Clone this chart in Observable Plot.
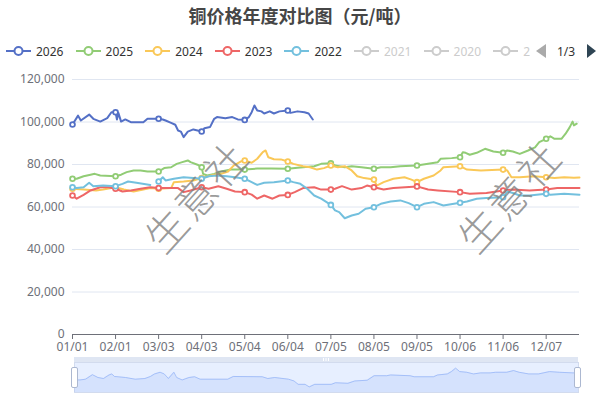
<!DOCTYPE html>
<html><head><meta charset="utf-8">
<script src="https://cdn.jsdelivr.net/npm/d3@7"></script>
<script src="https://cdn.jsdelivr.net/npm/@observablehq/plot@0.6"></script>
<style>
body{margin:0;background:#fff;font-family:"Noto Sans","Noto Sans CJK SC",sans-serif;}
#wrap{width:600px;height:400px;position:relative;overflow:hidden;background:#fff;}
#title{height:30px;line-height:30px;text-align:center;font-weight:bold;font-size:18px;font-family:"Noto Sans CJK SC",sans-serif;color:#464646;}
#legend{height:42px;position:relative;}
#litems{position:absolute;left:0;top:0;width:530px;height:42px;overflow:hidden;}
.li{position:absolute;top:14px;height:14px;display:flex;align-items:center;font-size:12px;white-space:nowrap;}
.li svg{margin-right:5px;}
#pager{position:absolute;left:536px;top:14px;height:14px;width:64px;font-size:12px;color:#333;}
#main{position:relative;height:284px;}
.wm{position:absolute;font-family:"Noto Sans CJK SC",sans-serif;font-size:41px;color:rgba(128,128,128,0.8);letter-spacing:3px;transform:translate(-50%,-50%) rotate(-48deg);white-space:nowrap;pointer-events:none;font-weight:300;}
#slider{position:relative;height:44px;}
.hd{position:absolute;top:11px;width:5px;height:19px;background:#fff;border:1px solid #acb8d1;border-radius:2px;}
</style></head>
<body><div id="wrap">
<div id="title">铜价格年度对比图（元/吨）</div>
<div id="legend"><div id="litems"></div>
<div id="pager">
<svg width="64" height="14" style="position:absolute;left:0;top:0;overflow:visible">
<path d="M10,0 L0,7 L10,14 Z" fill="#aaaaaa"/>
<text x="21" y="11.5" fill="#333" font-size="12">1/3</text>
<path d="M51,0 L60,7 L51,14 Z" fill="#2f4554"/>
</svg></div>
</div>
<div id="main"></div>
<div id="slider"></div>
</div>
<script>
const tickLabels = ["01/01","02/01","03/03","04/03","05/04","06/04","07/05","08/05","09/05","10/06","11/06","12/07"];
const yTicks = [0,20000,40000,60000,80000,100000,120000];
const legendNames = ["2026","2025","2024","2023","2022","2021","2020","2019"];
const legendActive = [true,true,true,true,true,false,false,false];
const seriesColors = ["#5470c6","#91cc75","#fac858","#ee6666","#73c0de"];

const s2026 = [["01/01",98800],["01/05",103000],["01/07",100700],["01/13",103500],["01/16",101500],["01/21",100200],["01/26",101800],["01/29",104600],["02/01",104600],["02/02",101200],["02/03",104300],["02/05",100200],["02/08",101200],["02/12",99900],["02/21",99900],["02/24",101500],["03/03",101500],["03/06",101200],["03/08",100700],["03/12",99600],["03/15",98700],["03/17",96000],["03/19",95500],["03/21",92900],["03/24",95500],["03/28",96500],["04/03",95500],["04/05",97100],["04/09",97600],["04/12",101500],["04/14",102300],["04/20",101800],["04/25",102300],["04/29",101200],["05/04",101000],["05/07",102300],["05/09",104600],["05/11",107800],["05/13",105400],["05/16",105000],["05/18",104000],["05/22",105000],["05/25",104000],["05/29",105000],["06/04",105400],["06/06",104300],["06/11",105000],["06/16",104600],["06/19",104000],["06/22",101200]];

const s2025 = [["01/01",73300],["01/04",73300],["01/09",74500],["01/14",75200],["01/17",75600],["01/21",74800],["02/01",74500],["02/05",75200],["02/09",76400],["02/14",77200],["02/19",77200],["02/24",76700],["03/03",76700],["03/07",78300],["03/12",78700],["03/16",80300],["03/20",81100],["03/24",81900],["03/26",81100],["03/31",79900],["04/03",78700],["04/04",75600],["04/07",74800],["04/12",75600],["04/17",76700],["04/24",77600],["05/04",77600],["05/13",78100],["05/23",78100],["06/04",78000],["06/11",78500],["06/23",79200],["06/28",80300],["07/05",80600],["07/08",79500],["07/15",78700],["07/20",79200],["07/27",78700],["08/05",78000],["08/10",78700],["08/17",78700],["08/24",79200],["09/05",79500],["09/13",80300],["09/20",81100],["09/22",82700],["09/30",83000],["10/06",83400],["10/08",85800],["10/10",85500],["10/13",84600],["10/18",85500],["10/24",87400],["10/30",86100],["11/06",85500],["11/09",86600],["11/13",86100],["11/18",85000],["11/24",86600],["11/29",88100],["12/02",90500],["12/07",92100],["12/10",93300],["12/13",92100],["12/18",92100],["12/21",94500],["12/24",97600],["12/26",100200],["12/27",98400],["12/29",99200]];

const s2024 = [["01/01",68600],["01/09",68200],["01/18",67800],["01/23",68200],["02/01",69300],["02/07",68200],["02/14",67300],["02/21",68200],["02/26",68900],["03/03",68600],["03/12",68900],["03/14",71700],["03/21",72000],["03/28",72500],["04/03",73600],["04/05",74000],["04/12",75200],["04/17",75600],["04/22",76700],["04/26",79500],["05/01",81400],["05/04",81900],["05/09",80800],["05/13",82700],["05/17",85800],["05/19",86600],["05/21",83400],["05/25",82500],["05/30",82400],["06/04",81400],["06/08",80300],["06/15",79200],["06/20",78700],["06/25",77600],["06/30",78300],["07/05",79500],["07/10",78700],["07/15",79200],["07/20",77200],["07/24",74500],["07/29",73600],["08/05",72900],["08/07",70100],["08/12",71700],["08/19",73300],["08/27",74000],["09/01",72900],["09/05",71700],["09/10",73300],["09/17",74800],["09/22",77200],["09/24",78700],["10/06",79200],["10/11",77600],["10/21",77200],["11/06",77600],["11/09",77200],["11/12",74000],["11/18",74000],["11/28",74500],["12/07",74000],["12/13",73600],["12/20",74000],["12/27",73800],["12/31",73900]];

const s2023 = [["01/01",65400],["01/04",63900],["01/09",65700],["01/14",67800],["01/21",69300],["01/27",69300],["02/01",68600],["02/06",67300],["02/12",67800],["02/19",68600],["02/26",69300],["03/03",68900],["03/09",68900],["03/17",68900],["03/21",67000],["03/26",67800],["04/03",69300],["04/08",68600],["04/15",69800],["04/21",68600],["04/27",67300],["05/04",67000],["05/09",65800],["05/13",63900],["05/18",65400],["05/24",63900],["05/29",65400],["06/04",65700],["06/09",67000],["06/15",68900],["06/23",69300],["06/28",68200],["07/05",68200],["07/08",68600],["07/13",69800],["07/20",68200],["07/27",68900],["07/31",70100],["08/05",69300],["08/12",68200],["08/19",68900],["09/05",69700],["09/13",68200],["09/20",67800],["10/06",67000],["10/13",66200],["10/25",66600],["11/06",67800],["11/13",68200],["11/25",67800],["12/07",68200],["12/15",68900],["12/31",68900]];

const s2022 = [["01/01",69300],["01/04",68900],["01/09",69300],["01/13",71400],["01/16",69800],["01/23",70100],["02/01",69800],["02/06",70900],["02/10",72000],["02/16",71400],["02/26",70400],["03/01",null],["03/03",72000],["03/06",74000],["03/08",72500],["03/14",73300],["03/21",74000],["03/28",73600],["04/03",73300],["04/08",74500],["04/14",74800],["04/21",74500],["04/27",74000],["05/04",73300],["05/09",71700],["05/13",70400],["05/18",71400],["05/25",71700],["06/04",72500],["06/08",71700],["06/13",70900],["06/18",68600],["06/23",65400],["06/28",63900],["07/05",61000],["07/08",58400],["07/11",57600],["07/15",54700],["07/20",56000],["07/25",56800],["07/30",59200],["08/05",59900],["08/10",61500],["08/17",62600],["08/24",63100],["08/30",61800],["09/05",59900],["09/10",61500],["09/17",62300],["09/24",60700],["10/06",62000],["10/11",62600],["10/18",63900],["10/25",64200],["11/06",64600],["11/09",67300],["11/13",66600],["11/18",65400],["11/25",65400],["12/07",66200],["12/10",65800],["12/20",66200],["12/31",65800]];

const previewSeries = [["01/01",67400],["01/05",67400],["01/09",68200],["01/14",73000],["01/18",70000],["01/22",68900],["01/26",72700],["01/28",73800],["01/30",71100],["02/07",70000],["02/14",68200],["02/21",68900],["02/25",71100],["02/28",73800],["03/03",75600],["03/06",73800],["03/09",68900],["03/13",75600],["03/15",70000],["03/19",67400],["03/24",70000],["03/28",70800],["04/01",68200],["04/21",68200],["04/25",71100],["05/16",70800],["05/20",68900],["05/25",70000],["06/04",68200],["06/08",66300],["06/11",62700],["06/16",62700],["06/19",60000],["06/23",62700],["07/05",62700],["07/08",64400],["07/17",63800],["07/22",66300],["07/31",67100],["08/05",71900],["08/14",71900],["08/17",72700],["08/31",71900],["09/03",70800],["09/17",70800],["09/20",72700],["09/27",73800],["09/30",76300],["10/03",80000],["10/06",76300],["10/11",75600],["10/16",73800],["10/21",74900],["10/28",74900],["11/01",75600],["11/09",75600],["11/14",77400],["11/18",75600],["11/25",73800],["12/02",73800],["12/10",76300],["12/17",75600],["12/27",74900],["12/31",74900]];

const seriesList = [s2026, s2025, s2024, s2023, s2022];

// category index of a MM/DD label on a 366-day (leap) calendar axis
const monthStart = [0,31,60,91,121,152,182,213,244,274,305,335];
const dayIndex = s => monthStart[+s.slice(0,2) - 1] + (+s.slice(3)) - 1;
const tickIdx = tickLabels.map(dayIndex);
const tickSet = new Set(tickLabels);

// ---- Legend
const litems = document.getElementById("litems");
legendNames.forEach((name, i) => {
  const c = legendActive[i] ? seriesColors[i] : "#cccccc";
  const el = document.createElement("div");
  el.className = "li";
  el.style.left = (6 + i * 69.6) + "px";
  el.style.color = legendActive[i] ? "#333" : "#ccc";
  el.innerHTML = `<svg width="25" height="14"><line x1="0" x2="25" y1="7" y2="7" stroke="${c}" stroke-width="2"/><circle cx="12.5" cy="7" r="4" fill="#fff" stroke="${c}" stroke-width="2"/></svg><span>${name}</span>`;
  litems.appendChild(el);
});

// ---- Main chart
const marks = [
  Plot.ruleY(yTicks.slice(1), {stroke: "#e0e6f1", strokeWidth: 1}),
  Plot.axisY({ticks: yTicks, tickFormat: d3.format(","), tickSize: 0, tickPadding: 8, label: null, fill: "#6e7079"}),
  Plot.ruleY([0], {stroke: "#6e7079", strokeWidth: 1}),
  Plot.axisX({ticks: tickIdx, tickFormat: d => tickLabels[tickIdx.indexOf(d)], tickSize: 5, tickPadding: 3, label: null, stroke: "#6e7079", fill: "#6e7079"})
];
seriesList.forEach((s, i) => {
  const rows = s.map(([d, v]) => ({x: dayIndex(d), date: d, v}));
  marks.push(Plot.line(rows, {x: "x", y: "v", stroke: seriesColors[i], strokeWidth: 2, strokeLinejoin: "round"}));
  marks.push(Plot.dot(rows.filter(r => tickSet.has(r.date) && r.v != null), {x: "x", y: "v", r: 2.4, fill: "#fff", stroke: seriesColors[i], strokeWidth: 1.8}));
});
const main = Plot.plot({
  width: 600, height: 284,
  marginTop: 7, marginBottom: 22, marginLeft: 72, marginRight: 21,
  style: {fontSize: "12px", fontFamily: '"Noto Sans","Noto Sans CJK SC",sans-serif', color: "#6e7079", background: "transparent", overflow: "visible"},
  x: {type: "linear", domain: [0, 365]},
  y: {domain: [0, 120000]},
  marks
});
const mainDiv = document.getElementById("main");
mainDiv.appendChild(main);
[[195, 123], [508, 123]].forEach(([x, y]) => {
  const w = document.createElement("div");
  w.className = "wm"; w.textContent = "生意社";
  w.style.left = x + "px"; w.style.top = y + "px";
  mainDiv.appendChild(w);
});

// ---- DataZoom slider
const prev = previewSeries.map(([d, v]) => ({x: dayIndex(d), v}));
const slider = Plot.plot({
  width: 600, height: 44,
  marginTop: 6, marginBottom: 8, marginLeft: 74, marginRight: 22,
  style: {background: "transparent", overflow: "visible"},
  x: {type: "linear", domain: [0, 365], axis: null},
  y: {domain: [54000, 86000], axis: null},
  marks: [
    Plot.frame({fill: "rgba(135,175,255,0.2)", stroke: "#d2dbee"}),
    Plot.areaY(prev, {x: "x", y: "v", fill: "#8fb0f7", fillOpacity: 0.2, clip: true}),
    Plot.lineY(prev, {x: "x", y: "v", stroke: "#8fb0f7", strokeWidth: 0.7})
  ]
});
const sd = document.getElementById("slider");
sd.appendChild(slider);
sd.insertAdjacentHTML("beforeend",
  `<div style="position:absolute;left:74px;top:1px;width:504px;height:5px;background:#d2dbee;opacity:0.7"></div>
   <svg style="position:absolute;left:322px;top:1px" width="8" height="5"><path d="M1.5,1V4M4,1V4M6.5,1V4" stroke="#fff" stroke-width="1"/></svg>
   <div class="hd" style="left:71px"></div><div class="hd" style="left:574px"></div>`);
</script>
</body></html>
